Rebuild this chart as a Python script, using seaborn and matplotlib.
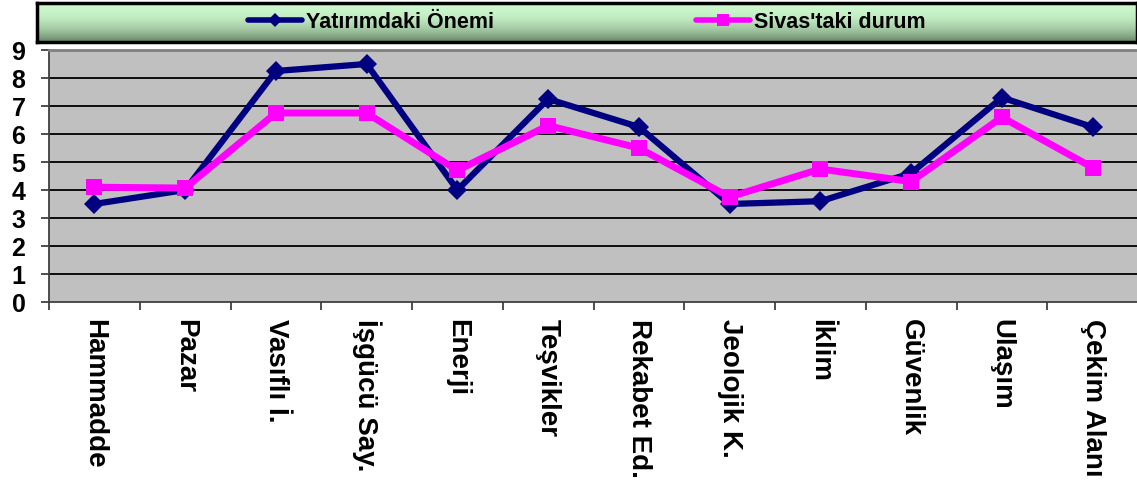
import numpy as np
import pandas as pd
import matplotlib
matplotlib.use("Agg")
import matplotlib.pyplot as plt
from matplotlib.lines import Line2D
import seaborn as sns

categories = ["Hammadde", "Pazar", "Vasıflı İ.", "İşgücü Say.", "Enerji", "Teşvikler",
              "Rekabet Ed.", "Jeolojik K.", "İklim", "Güvenlik", "Ulaşım", "Çekim Alanı"]
yatirim = [3.5, 4.0, 8.25, 8.5, 4.0, 7.25, 6.25, 3.5, 3.6, 4.6, 7.3, 6.25]
sivas = [4.1, 4.07, 6.75, 6.75, 4.7, 6.3, 5.5, 3.75, 4.75, 4.3, 6.6, 4.8]
series_names = ["Yatırımdaki Önemi", "Sivas'taki durum"]
y_ticks = list(range(0, 10))

sns.set_theme(style="white")
plt.rcParams['font.family'] = ['Liberation Sans', 'DejaVu Sans']
plt.rcParams['font.weight'] = 'bold'
plt.rcParams['text.color'] = 'black'
plt.rcParams['xtick.color'] = 'black'
plt.rcParams['ytick.color'] = 'black'
plt.rcParams['xtick.labelcolor'] = 'black'
plt.rcParams['ytick.labelcolor'] = 'black'

pos = np.arange(len(categories))
df = pd.DataFrame({
    "pos": np.concatenate([pos, pos]),
    "value": yatirim + sivas,
    "series": [series_names[0]] * len(categories) + [series_names[1]] * len(categories),
})

fig = plt.figure(figsize=(11.37, 4.8), dpi=100)
ax = fig.add_axes([49 / 1137, (480 - 302) / 480, (1138 - 49) / 1137, (302 - 50) / 480])
ax.set_facecolor("#C0C0C0")

palette = {series_names[0]: "#000080", series_names[1]: "#FF00FF"}
markers = {series_names[0]: "D", series_names[1]: "s"}
sns.lineplot(data=df, x="pos", y="value", hue="series", style="series",
             palette=palette, markers=markers, dashes=False, linewidth=4.5,
             markersize=11, ax=ax, legend=False, zorder=3)
for ln in ax.lines:
    ln.set_markeredgecolor(ln.get_color())
    ln.set_markeredgewidth(0)
    if ln.get_marker() == "D":
        ln.set_markersize(10)
    elif ln.get_marker() == "s":
        ln.set_markersize(12)
        ln.set_linewidth(5)

ax.set_xlim(-0.5, len(categories) - 0.5)
ax.set_ylim(0, 9)
ax.set_yticks(y_ticks)
ax.set_yticklabels([str(t) for t in y_ticks], fontsize=18, fontweight="bold")
for t in y_ticks[1:-1]:
    ax.axhline(t, color="black", linewidth=1.3, zorder=1)

ax.set_xticks(pos)
ax.set_xticklabels(categories, rotation=-90, fontsize=20, fontweight="bold", va="top", ha="center")
ax.set_xticks(np.arange(-0.5, len(categories) + 0.5, 1), minor=True)
ax.tick_params(axis="x", which="major", length=0, pad=12)
ax.tick_params(axis="x", which="minor", length=6, width=1.2, color="#303030", direction="out", bottom=True)
ax.tick_params(axis="y", length=6, width=1.2, color="#303030", direction="out", left=True, pad=11)
ax.set_xlabel("")
ax.set_ylabel("")

for s in ["left", "bottom"]:
    ax.spines[s].set_color("#404040")
    ax.spines[s].set_linewidth(1.3)
ax.spines["top"].set_color("#808080")
ax.spines["top"].set_linewidth(2)
ax.spines["right"].set_visible(False)

# legend box with gradient
lax = fig.add_axes([37 / 1137, (480 - 42) / 480, (1137 - 37) / 1137, 39 / 480])
top_c = np.array([0.80, 0.97, 0.80])
bot_c = np.array([0.40, 0.52, 0.40])
tt = np.linspace(0, 1, 100) ** 2.2
grad = (top_c[None, :] * (1 - tt[:, None]) + bot_c[None, :] * tt[:, None])[:, None, :]
lax.imshow(grad, aspect="auto", extent=[0, 1, 0, 1], origin="upper")
lax.set_xlim(0, 1)
lax.set_ylim(0, 1)
lax.set_xticks([])
lax.set_yticks([])
for s in lax.spines.values():
    s.set_color("black")
    s.set_linewidth(2.5)

handles = [
    Line2D([], [], color="#000080", linewidth=4, marker="D", markersize=7, markeredgewidth=0),
    Line2D([], [], color="#FF00FF", linewidth=4, marker="s", markersize=9, markeredgewidth=0),
]
lax.legend(handles, series_names, loc="center",
           bbox_to_anchor=(0.5, 0.5), bbox_transform=lax.transAxes,
           ncol=2, frameon=False, prop={"weight": "bold", "size": 15.5},
           handlelength=2.5, handletextpad=0.2, columnspacing=9.4, borderpad=0)

fig.savefig("out.png", dpi=100)
